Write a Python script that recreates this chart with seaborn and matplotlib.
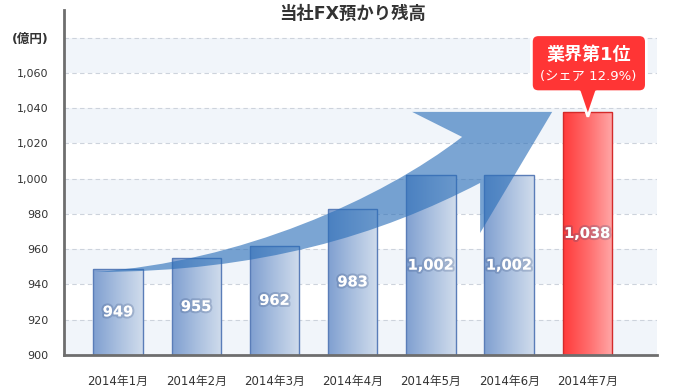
import numpy as np
import pandas as pd
import seaborn as sns
import matplotlib
matplotlib.use("Agg")
import matplotlib.pyplot as plt
from matplotlib.path import Path
from matplotlib.patches import PathPatch, FancyBboxPatch, Polygon
from matplotlib.colors import LinearSegmentedColormap
from matplotlib import transforms
import matplotlib.patheffects as pe

# ---- data ----
categories = ["2014年1月", "2014年2月", "2014年3月", "2014年4月",
              "2014年5月", "2014年6月", "2014年7月"]
values = [949, 955, 962, 983, 1002, 1002, 1038]
y_ticks = [900, 920, 940, 960, 980, 1000, 1020, 1040, 1060]
unit_label = "(億円)"
title = "当社FX預かり残高"
callout_title = "業界第1位"
callout_sub = "(シェア 12.9%)"

sns.set_theme(style="white")
plt.rcParams['font.family'] = ['DejaVu Sans', 'Noto Sans CJK JP']

fig = plt.figure(figsize=(6.8, 3.9), dpi=100)
ax = fig.add_axes([64/680, 35/390, (657-64)/680, (355-10)/390])

df = pd.DataFrame({"month": categories, "value": values})
sns.barplot(data=df, x="month", y="value", ax=ax, width=0.63, color="white")
bars = list(ax.patches)

YMIN, YMAX = 900, 1095.7
XMIN, XMAX = -0.69, 6.89

# background bands and dashed grid
for lo in range(900, 1080, 40):
    ax.axhspan(lo, lo + 20, facecolor="#f1f5fa", edgecolor="none", lw=0, zorder=0)
for y in range(920, 1081, 20):
    ax.axhline(y, color="#cdd3dc", lw=0.8, ls=(0, (4, 3)), zorder=1)

blue_cmap = LinearSegmentedColormap.from_list("b", ["#7f9fd0", "#a9bfdf", "#d0dcec"])
red_cmap = LinearSegmentedColormap.from_list("r", ["#ff3a3a", "#ff6b6b", "#ffa8a8"])
grad = np.linspace(0, 1, 256)[None, :]
n = len(values)
for i, patch in enumerate(bars):
    last = (i == n - 1)
    patch.set_facecolor("none")
    patch.set_edgecolor("#d42a2a" if last else "#5a7db8")
    patch.set_linewidth(1.0)
    patch.set_zorder(3)
    x0 = patch.get_x()
    w = patch.get_width()
    top = patch.get_y() + patch.get_height()
    im = ax.imshow(grad, extent=[x0, x0 + w, YMIN, top], aspect="auto",
                   cmap=red_cmap if last else blue_cmap, zorder=2)
    im.set_clip_path(patch)

# decorative growth arrow (data coordinates)
P = Path
arrow_verts = [(-0.294, 947.1), (1.560, 952.8), (3.350, 987.9), (4.399, 1023.7),
               (3.760, 1037.9), (5.550, 1037.9), (4.629, 969.2), (4.629, 997.6),
               (3.350, 968.1), (1.816, 947.1), (-0.294, 947.1), (-0.294, 947.1)]
arrow_codes = [P.MOVETO, P.CURVE4, P.CURVE4, P.CURVE4,
               P.LINETO, P.LINETO, P.LINETO, P.LINETO,
               P.CURVE4, P.CURVE4, P.CURVE4, P.CLOSEPOLY]
ax.add_patch(PathPatch(Path(arrow_verts, arrow_codes), facecolor="#2a6eb8",
                       alpha=0.62, lw=0, zorder=4))

# value labels
shadow = [pe.withStroke(linewidth=3, foreground=(0.15, 0.25, 0.45, 0.22))]
for i, v in enumerate(values):
    ax.text(i, (YMIN + v) / 2, f"{v:,}", ha="center", va="center", color="white",
            fontsize=10.5, fontweight="bold", zorder=6, path_effects=shadow)

# axes styling
ax.set_xlim(XMIN, XMAX)
ax.set_ylim(YMIN, YMAX)
ax.set_xlabel("")
ax.set_ylabel("")
ax.set_yticks(y_ticks + [1080])
ax.set_yticklabels([f"{t:,}" for t in y_ticks] + [unit_label])
ax.tick_params(axis="y", length=0, pad=11, labelsize=8, labelcolor="#333333")
ulab = ax.get_yticklabels()[-1]
ulab.set_fontweight("bold")
ulab.set_fontsize(9)
ax.set_xticks(np.arange(-0.5, n, 1), minor=True)
ax.tick_params(axis="x", which="minor", length=8, width=1, color="#8a8a8a", direction="out")
ax.tick_params(axis="x", which="major", length=0, pad=14, labelsize=8.5, labelcolor="#333333")
for s in ["top", "right"]:
    ax.spines[s].set_visible(False)
for s in ["left", "bottom"]:
    ax.spines[s].set_color("#6e6e6e")
    ax.spines[s].set_linewidth(2)
    ax.spines[s].set_zorder(7)

# title
fig.text(353/680, 1 - 14/390, title, ha="center", va="center", fontsize=12.5,
         fontweight="bold", color="#333333")

# callout anchored to the last bar (pixel offsets, y down)
pix = (transforms.Affine2D().scale(1/100, -1/100) + fig.dpi_scale_trans +
       transforms.ScaledTranslation(n - 1, values[-1], ax.transData))
box = FancyBboxPatch((-56, -77), 115, 57, boxstyle="round,pad=0,rounding_size=7",
                     facecolor="#ff3535", edgecolor="white", lw=2, transform=pix,
                     zorder=8, clip_on=False)
ax.add_patch(box)
ax.add_patch(Polygon([(-8.8, -22), (9.8, -22), (0.5, 5)], closed=True,
                     facecolor="#ff3535", edgecolor="none", transform=pix,
                     zorder=9, clip_on=False))
ax.plot([-8, 0.5, 9], [-20, 5, -20], color="white", lw=2, transform=pix,
        zorder=9, clip_on=False, solid_joinstyle="miter")
ax.text(1, -57, callout_title, transform=pix, ha="center", va="center",
        color="white", fontsize=13, fontweight="bold", zorder=10)
ax.text(1, -35, callout_sub, transform=pix, ha="center", va="center",
        color="white", fontsize=9.5, zorder=10)

fig.savefig("out.png", dpi=100)
